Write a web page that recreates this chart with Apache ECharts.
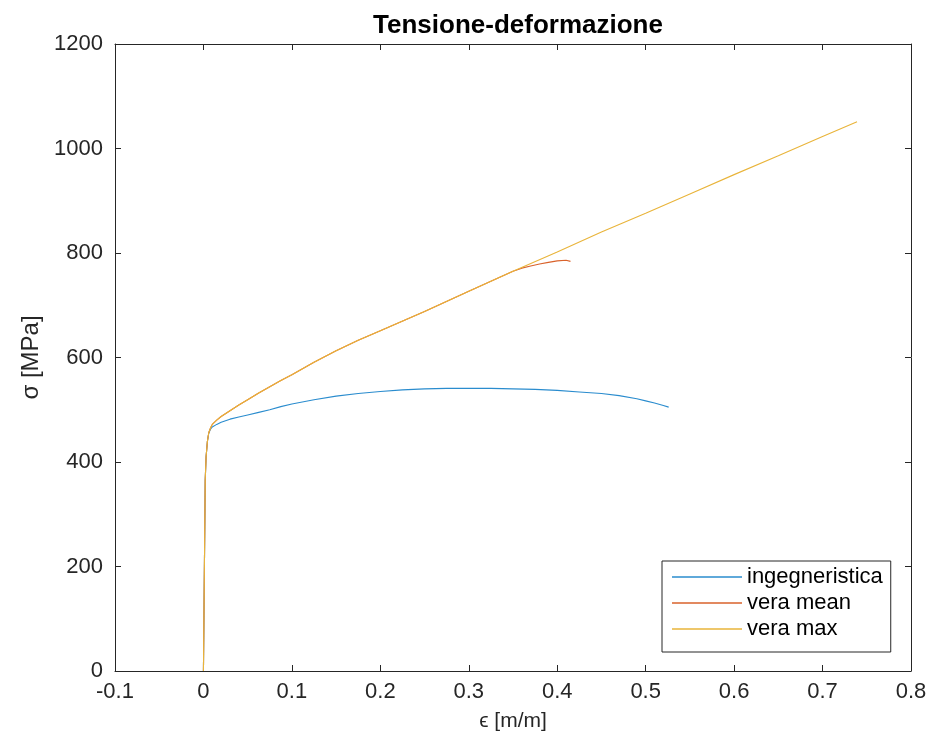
<!DOCTYPE html>
<html>
<head>
<meta charset="utf-8">
<script src="https://cdn.jsdelivr.net/npm/echarts@6/dist/echarts.min.js"></script>
<style>html,body{margin:0;padding:0;background:#fff;}#c{width:935px;height:754px;}</style>
</head>
<body>
<div id="c"></div>
<script>
const seriesNames = ['ingegneristica', 'vera mean', 'vera max'];
const xTicks = [-0.1, 0, 0.1, 0.2, 0.3, 0.4, 0.5, 0.6, 0.7, 0.8];
const yTicks = [0, 200, 400, 600, 800, 1000, 1200];

const engX = [0, 0.002, 0.003, 0.0045, 0.006, 0.008, 0.01, 0.015, 0.02, 0.03, 0.04, 0.05, 0.0625, 0.075, 0.0875, 0.1, 0.125, 0.15, 0.175, 0.2, 0.225, 0.25, 0.275, 0.3, 0.325, 0.35, 0.375, 0.4, 0.425, 0.45, 0.47, 0.49, 0.5, 0.51, 0.52, 0.526];
const engY = [0, 365, 410, 440, 455, 463, 467, 472, 476, 482, 486, 490, 495, 500, 506, 511, 519, 526, 531, 535, 538, 540, 541, 541, 541, 540, 539, 537, 534, 531, 527, 521, 517, 513, 508, 505];

const meanX = [0, 0.002, 0.003, 0.0045, 0.006, 0.008, 0.01, 0.015, 0.02, 0.03, 0.04, 0.05, 0.0625, 0.075, 0.0875, 0.1, 0.125, 0.15, 0.175, 0.2, 0.25, 0.3, 0.35, 0.36, 0.37, 0.38, 0.39, 0.40, 0.41, 0.415];
const meanY = [0, 365, 410, 440, 456, 465, 472, 480, 487, 498, 509, 519, 532, 544, 556, 567, 591, 613, 633, 651, 688, 727, 765, 771, 775, 779, 782, 785, 786, 784];

const maxX = [0, 0.002, 0.003, 0.0045, 0.006, 0.008, 0.01, 0.015, 0.02, 0.03, 0.04, 0.05, 0.0625, 0.075, 0.0875, 0.1, 0.125, 0.15, 0.175, 0.2, 0.25, 0.3, 0.35, 0.4, 0.45, 0.5, 0.55, 0.6, 0.65, 0.7, 0.739];
const maxY = [0, 365, 410, 440, 456, 465, 472, 480, 487, 498, 509, 519, 532, 544, 556, 567, 591, 613, 633, 651, 688, 727, 765, 802, 840, 876, 913, 950, 986, 1023, 1051];

const colors = ['#2a8cce', '#d9622b', '#e9b43a'];
const zip = (xs, ys) => xs.map((x, i) => [x, ys[i]]);

const axisCol = '#262626';
const font = 'Liberation Sans, Arial, Helvetica, sans-serif';
const tickFs = 22;

const chart = echarts.init(document.getElementById('c'), null, {renderer: 'canvas'});
const xBase = {
  type: 'value', min: -0.1, max: 0.8, interval: 0.1,
  axisLine: {show: true, onZero: false, lineStyle: {color: axisCol, width: 1}},
  axisTick: {show: true, inside: true, length: 6, lineStyle: {color: axisCol}},
  splitLine: {show: false}
};
const yBase = {
  type: 'value', min: 0, max: 1200, interval: 200,
  axisLine: {show: true, onZero: false, lineStyle: {color: axisCol, width: 1}},
  axisTick: {show: true, inside: true, length: 6, lineStyle: {color: axisCol}},
  splitLine: {show: false}
};
const lineSeries = (i, xs, ys) => ({
  name: seriesNames[i], type: 'line', data: zip(xs, ys), symbol: 'none',
  lineStyle: {width: 1.1, color: colors[i]}, itemStyle: {color: colors[i]}
});
chart.setOption({
  animation: false,
  backgroundColor: '#fff',
  title: {
    text: 'Tensione-deformazione', left: 513, top: 8, textAlign: 'center',
    textStyle: {fontFamily: font, fontSize: 26, fontWeight: 'bold', color: '#000'}
  },
  grid: {left: 115, right: 24, top: 44, bottom: 83, containLabel: false},
  xAxis: [
    Object.assign({}, xBase, {
      position: 'bottom',
      name: 'ϵ [m/m]', nameLocation: 'middle', nameGap: 40,
      nameTextStyle: {fontFamily: font, fontSize: 21, color: axisCol},
      axisLabel: {
        fontFamily: font, fontSize: tickFs, color: axisCol, margin: 10,
        formatter: v => { const t = xTicks.find(k => Math.abs(k - v) < 1e-9); return t === undefined ? '' : String(t); }
      }
    }),
    Object.assign({}, xBase, {position: 'top', axisLabel: {show: false}})
  ],
  yAxis: [
    Object.assign({}, yBase, {
      position: 'left',
      name: 'σ [MPa]', nameLocation: 'middle', nameGap: 72, nameRotate: 90,
      nameTextStyle: {fontFamily: font, fontSize: 24, color: axisCol},
      axisLabel: {
        fontFamily: font, fontSize: tickFs, color: axisCol, margin: 12,
        formatter: v => { const t = yTicks.find(k => Math.abs(k - v) < 1e-9); return t === undefined ? '' : String(t); }
      }
    }),
    Object.assign({}, yBase, {position: 'right', axisLabel: {show: false}})
  ],
  legend: {
    orient: 'vertical', left: 662, top: 561,
    data: seriesNames,
    icon: 'rect',
    itemWidth: 70, itemHeight: 1.5, itemGap: 0,
    padding: [3, 8, 10, 10],
    borderColor: axisCol, borderWidth: 1, backgroundColor: '#fff',
    textStyle: {fontFamily: font, fontSize: 22, color: '#000', lineHeight: 26}
  },
  series: [
    lineSeries(0, engX, engY),
    lineSeries(1, meanX, meanY),
    lineSeries(2, maxX, maxY)
  ]
});
</script>
</body>
</html>
